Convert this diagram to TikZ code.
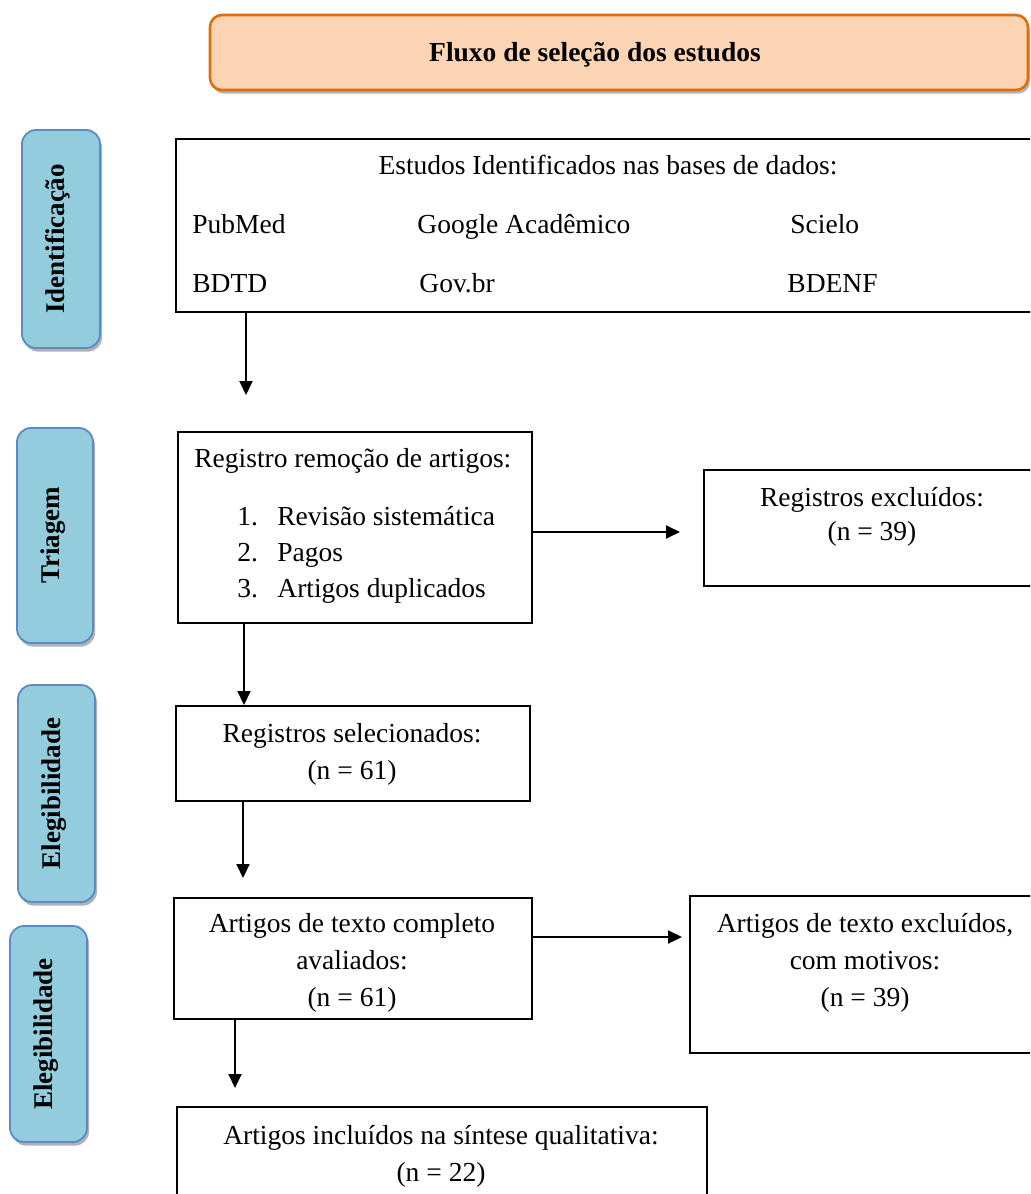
\documentclass[tikz,border=0pt]{standalone}
\usepackage{fontspec}
\setmainfont{Liberation Serif}
\usetikzlibrary{arrows.meta,shadows}
\definecolor{peach}{HTML}{FBD4B4}
\definecolor{orangeb}{HTML}{E36C0A}
\definecolor{sideblue}{HTML}{93CDDD}
\definecolor{sideborder}{HTML}{5B8BC6}
\begin{document}
\begin{tikzpicture}[x=0.5pt,y=-0.5pt,
  every node/.style={font=\fontsize{13.75}{18.5}\selectfont, inner sep=0pt},
  box/.style={draw=black, line width=1pt, fill=white},
  titlebox/.style={draw=orangeb, line width=1.3pt, fill=peach, rounded corners=6pt,
    drop shadow={shadow xshift=1pt, shadow yshift=-1.8pt, fill=black!55, opacity=0.55}},
  side/.style={draw=sideborder, line width=0.9pt, fill=sideblue, rounded corners=7pt,
    drop shadow={shadow xshift=1pt, shadow yshift=-1.8pt, fill=black!55, opacity=0.55}},
  sidetext/.style={rotate=90, font=\bfseries\fontsize{13.5}{16}\selectfont},
  arr/.style={-{Triangle[width=6.5pt,length=7pt]}, line width=1pt}]
\useasboundingbox (0,0) rectangle (1030,1194);
\clip (0,0) rectangle (1030,1194);
\fill[white] (0,0) rectangle (1030,1194);

% title
\node[titlebox, minimum width=409pt, minimum height=37.5pt] (title) at (619,52.5) {};
\node[font=\bfseries\fontsize{13.75}{16}\selectfont, anchor=mid] (titletext) at (595,57) {Fluxo de seleção dos estudos};

% side labels
\node[side, minimum width=39pt, minimum height=109pt] (s1) at (61,239) {};
\node[sidetext] (s1t) at (58,239) {Identificação};
\node[side, minimum width=38pt, minimum height=107.5pt] (s2) at (55,535.5) {};
\node[sidetext] (s2t) at (53,535.5) {Triagem};
\node[side, minimum width=38.5pt, minimum height=108.5pt] (s3) at (56.5,793.5) {};
\node[sidetext] (s3t) at (54,793.5) {Elegibilidade};
\node[side, minimum width=38.5pt, minimum height=108pt] (s4) at (48.5,1034) {};
\node[sidetext] (s4t) at (46,1034) {Elegibilidade};

% identification box
\node[box, minimum width=434.5pt, minimum height=86.5pt] (ident) at (610.5,225.5) {};
\node[anchor=mid] (idt) at (608,170) {Estudos Identificados nas bases de dados:};
\node[anchor=mid west] (db1) at (192,229) {PubMed};
\node[anchor=mid west] (db2) at (417,229) {Google Acadêmico};
\node[anchor=mid west] (db3) at (790,229) {Scielo};
\node[anchor=mid west] (db4) at (192,288) {BDTD};
\node[anchor=mid west] (db5) at (419,288) {Gov.br};
\node[anchor=mid west] (db6) at (787,288) {BDENF};

% screening box
\node[box, minimum width=177pt, minimum height=95.5pt] (remocao) at (355,527.5) {};
\node[anchor=mid west] (remt) at (194,463) {Registro remoção de artigos:};
\node[anchor=mid west] (n1) at (237,521) {1.};
\node[anchor=mid west] (l1) at (277,521) {Revisão sistemática};
\node[anchor=mid west] (n2) at (237,557) {2.};
\node[anchor=mid west] (l2) at (277,557) {Pagos};
\node[anchor=mid west] (n3) at (237,593) {3.};
\node[anchor=mid west] (l3) at (277,593) {Artigos duplicados};

% excluded records
\node[box, minimum width=170.5pt, minimum height=58pt] (excl) at (874.5,528) {};
\node[align=center, font=\fontsize{13.75}{17}\selectfont] (exclt) at (872,517) {Registros excluídos:\\(n = 39)};

% selected
\node[box, minimum width=177pt, minimum height=47.5pt] (selec) at (353,753.5) {};
\node[align=center] (select) at (352,754) {Registros selecionados:\\(n = 61)};

% full text assessed
\node[box, minimum width=179pt, minimum height=60.5pt] (complet) at (353,958.5) {};
\node[align=center] (complett) at (352,963) {Artigos de texto completo\\avaliados:\\(n = 61)};

% full text excluded
\node[box, minimum width=177.5pt, minimum height=78.5pt] (exclf) at (867.5,974.5) {};
\node[align=center] (exclft) at (865,963) {Artigos de texto excluídos,\\com motivos:\\(n = 39)};

% included
\node[box, minimum width=265pt, minimum height=51.5pt] (incl) at (442,1158.5) {};
\node[align=center] (inclt) at (441,1156) {Artigos incluídos na síntese qualitativa:\\(n = 22)};

% connectors
\coordinate (a1e) at (246,395);
\draw[arr] (a1e |- ident.south) -- (a1e);
\coordinate (a2e) at (680,532);
\draw[arr] (remocao.east |- a2e) -- (a2e);
\coordinate (a3x) at (244,0);
\draw[arr] (a3x |- remocao.south) -- (a3x |- selec.north);
\coordinate (a4e) at (243,878);
\draw[arr] (a4e |- selec.south) -- (a4e);
\coordinate (a5e) at (682,937);
\draw[arr] (complet.east |- a5e) -- (a5e);
\coordinate (a6e) at (235,1088);
\draw[arr] (a6e |- complet.south) -- (a6e);
\end{tikzpicture}
\end{document}
